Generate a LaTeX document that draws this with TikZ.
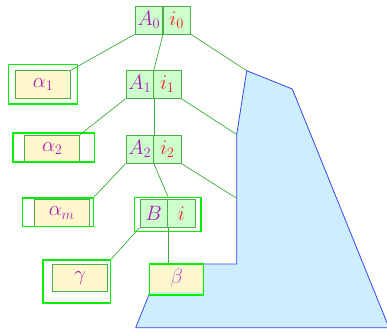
\documentclass[tikz,border=0pt]{standalone}
\usepackage{tikz}
\definecolor{cellfill}{RGB}{204,255,204}
\definecolor{cellline}{RGB}{80,170,80}
\definecolor{yelfill}{RGB}{255,248,204}
\definecolor{bright}{RGB}{0,240,0}
\definecolor{conn}{RGB}{60,170,60}
\definecolor{polyfill}{RGB}{204,238,255}
\definecolor{polyline}{RGB}{60,70,230}
\definecolor{atext}{RGB}{170,30,180}
\definecolor{itext}{RGB}{250,30,30}
\definecolor{btext}{RGB}{190,80,220}
\begin{document}
\begin{tikzpicture}[x=1pt,y=-1pt,
  every node/.style={font=\fontsize{21}{24}\selectfont},
  cell/.style={draw=cellline,fill=cellfill,line width=0.8pt,minimum width=27.5pt,minimum height=28pt,inner sep=0pt,anchor=center,text=atext},
  icell/.style={cell,text=itext},
  leaf/.style={draw=cellline,fill=yelfill,line width=0.8pt,minimum width=55pt,minimum height=27.5pt,inner sep=0pt,text=atext},
  frame/.style={draw=bright,line width=1.6pt,inner sep=0pt},
  conn/.style={draw=conn,line width=0.7pt}]
\useasboundingbox (0,0) rectangle (387,332);
\clip (0,0) rectangle (387,332);
% polygon
\coordinate (p1) at (246.7,70.7);
\coordinate (p2) at (292.3,89);
\coordinate (p3) at (389,327.7);
\coordinate (p4) at (135.7,327.7);
\coordinate (p5) at (150,292);
\coordinate (p6) at (150,264);
\coordinate (p7) at (236.7,264);
\coordinate (p8) at (236.7,198.3);
\coordinate (p9) at (236.7,134.5);
\draw[polyline,fill=polyfill,line width=0.8pt,line join=round] (p1) -- (p2) -- (p3) -- (p4) -- (p5) -- (p6) -- (p7) -- (p8) -- (p9) -- cycle;
% cells
\node[cell] (a0) at (148.9,19.9) {$A_0$};
\node[icell] (i0) at (176.7,19.9) {$i_0$};
\node[cell] (a1) at (139.7,84.3) {$A_1$};
\node[icell] (i1) at (167.3,84.3) {$i_1$};
\node[cell] (a2) at (139.7,149.2) {$A_2$};
\node[icell] (i2) at (167.3,149.2) {$i_2$};
\node[cell] (b) at (153.7,213.3) {$B$};
\node[icell] (i) at (181.3,213.3) {$i$};
\node[frame,minimum width=66.4pt,minimum height=34pt] (bf) at (167.5,214.3) {};
% leaves
\node[leaf] (al1) at (43.2,84.2) {$\alpha_1$};
\node[frame,minimum width=69pt,minimum height=39.4pt] (al1f) at (42.8,84) {};
\node[leaf] (al2) at (52.3,148.7) {$\alpha_2$};
\node[frame,minimum width=81.6pt,minimum height=29.3pt] (al2f) at (53.5,147.4) {};
\node[leaf] (alm) at (61.7,213) {$\alpha_m$};
\node[frame,minimum width=71pt,minimum height=28.6pt] (almf) at (57.8,212) {};
\node[leaf] (ga) at (80,278) {$\gamma$};
\node[frame,minimum width=67.3pt,minimum height=43pt] (gaf) at (76.7,281.5) {};
\node[leaf,draw=cellfill,minimum width=54pt,minimum height=28pt,text=btext] (be) at (176.6,278.2) {$\beta$};
\node[frame,minimum width=54pt,minimum height=31pt] (bef) at (176.6,279.7) {};
% connectors
\draw[conn] (a0.south west) -- (al1.north east);
\draw[conn] (a0.south east) -- (a1.north east);
\draw[conn] (a1.south east) -- (a2.north east);
\draw[conn] (i0.south east) -- (p1);
\draw[conn] (a1.south west) -- (al2.north east);
\draw[conn] (i1.south east) -- (p9);
\draw[conn] (a2.south west) -- (almf.north east);
\draw[conn] (a2.south east) -- (bf.north -| b.north east);
\draw[conn] (i2.south east) -- (p8);
\draw[conn] (b.south west) -- (gaf.north east);
\draw[conn] (b.south east) -- (b.south east |- bef.north);
\end{tikzpicture}
\end{document}
